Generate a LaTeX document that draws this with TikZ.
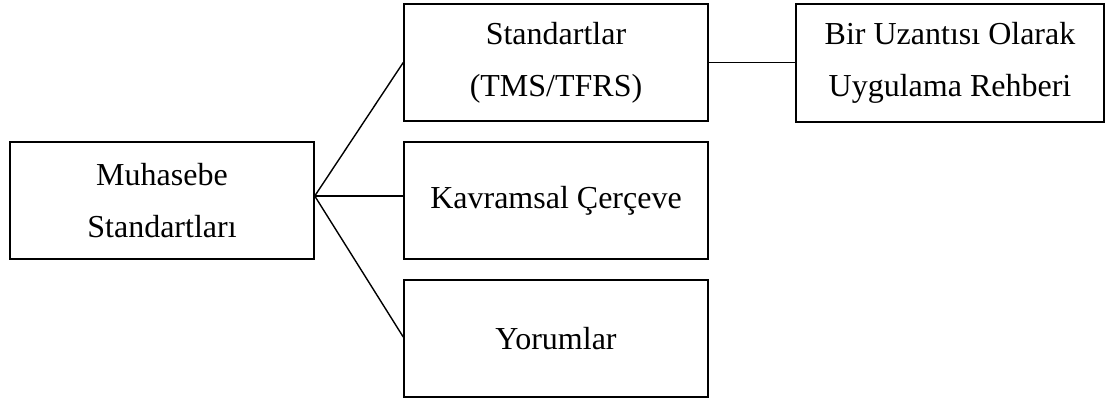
\documentclass[tikz,border=0pt]{standalone}
\usepackage{fontspec}
\setmainfont{Liberation Serif}
\begin{document}
\begin{tikzpicture}[x=1pt,y=-1pt,
  box/.style={draw,line width=1.5pt,rectangle,minimum width=304pt,minimum height=117pt,align=center,inner sep=0pt,font=\fontsize{32}{52}\selectfont},
  conn/.style={line width=1.4pt}]
\useasboundingbox (0,0) rectangle (1105,399);
\node[box] (mu) at (162,200.5) {Muhasebe\\Standartları};
\node[box] (st) at (556,62.5) {Standartlar\\(TMS/TFRS)};
\node[box] (kc) at (556,200.5) {Kavramsal Çerçeve};
\node[box] (yo) at (556,338.5) {Yorumlar};
\node[box,minimum width=308pt,minimum height=118pt] (ur) at (950,63) {Bir Uzantısı Olarak\\Uygulama Rehberi};
\coordinate (j) at (mu.east |- 0,196);
\draw[conn] (j) -- (st.west);
\draw[conn] (j) -- (kc.west |- 0,196);
\draw[conn] (j) -- (yo.west |- 0,337);
\draw[conn] (st.east) -- (ur.west |- st.east);
\end{tikzpicture}
\end{document}
